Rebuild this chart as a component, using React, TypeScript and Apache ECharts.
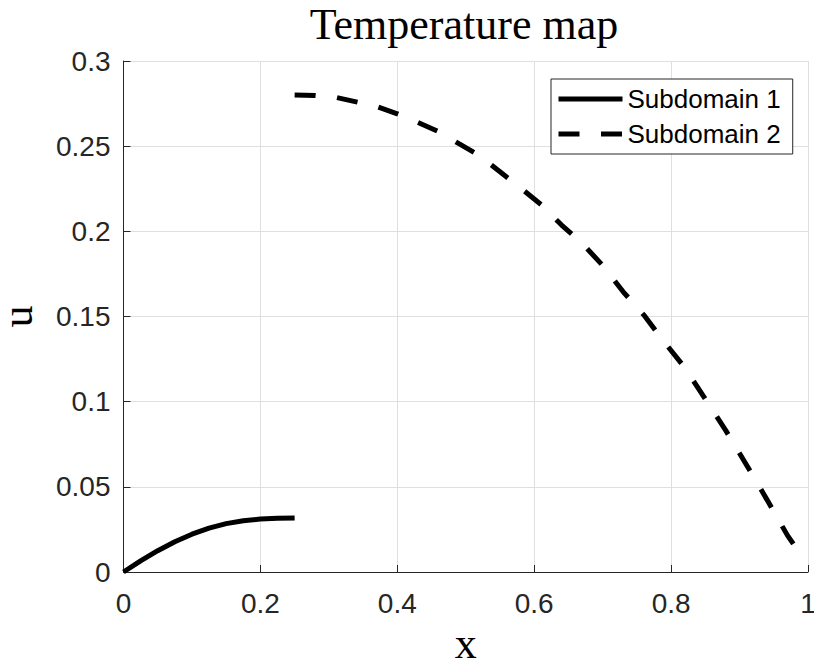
import React, { useEffect, useRef } from "react";
import * as echarts from "echarts";

const titleText = "Temperature map";
const xName = "x";
const yName = "u";
const seriesNames = ["Subdomain 1", "Subdomain 2"];

const x1 = [0, 0.025, 0.05, 0.075, 0.1, 0.125, 0.15, 0.175, 0.2, 0.225, 0.25];
const y1 = [0, 0.0065, 0.0125, 0.0178, 0.0222, 0.0258, 0.0284, 0.0301, 0.0311, 0.0315, 0.0317];

const x2 = [0.25, 0.28, 0.31, 0.34, 0.37, 0.4, 0.43, 0.46, 0.49, 0.52, 0.55, 0.58, 0.61, 0.64, 0.67, 0.7, 0.73, 0.76, 0.79, 0.82, 0.85, 0.88, 0.91, 0.94, 0.97, 0.988];
const y2 = [0.28, 0.2797, 0.2787, 0.276, 0.2733, 0.269, 0.264, 0.2586, 0.2515, 0.2445, 0.235, 0.2255, 0.2157, 0.2037, 0.193, 0.18, 0.1645, 0.151, 0.135, 0.12, 0.1015, 0.083, 0.063, 0.0425, 0.0215, 0.011];

const zip = (xs: number[], ys: number[]) => xs.map((x, i) => [x, ys[i]]);

export default function App() {
  const ref = useRef<HTMLDivElement>(null);
  useEffect(() => {
    if (!ref.current) return;
    const chart = echarts.init(ref.current, null, { renderer: "svg" });
    const axisColor = "#262626";
    const gridColor = "#dfdfdf";
    chart.setOption({
      animation: false,
      backgroundColor: "#ffffff",
      title: {
        text: titleText,
        left: 464,
        top: 2,
        padding: 0,
        textAlign: "center",
        textStyle: {
          fontFamily: "Liberation Serif",
          fontSize: 44,
          fontWeight: "normal",
          color: "#000000",
          lineHeight: 44,
        },
      },
      grid: {
        left: 123.5,
        right: 6,
        top: 61,
        bottom: 89,
        containLabel: false,
        outerBoundsMode: "none",
      },
      legend: {
        orient: "vertical",
        left: 551,
        top: 79,
        padding: [7, 12, 7, 5],
        itemWidth: 64,
        itemHeight: 26,
        itemGap: 9,
        itemTextGap: 6,
        backgroundColor: "#ffffff",
        borderColor: axisColor,
        borderWidth: 1,
        borderRadius: 0,
        itemStyle: { opacity: 0, color: "rgba(0,0,0,0)", borderWidth: 0 },
        lineStyle: { width: 5, type: "inherit", color: "#000000" },
        textStyle: {
          fontFamily: "Liberation Sans",
          fontSize: 26,
          lineHeight: 26,
          color: "#000000",
        },
        data: seriesNames,
      },
      xAxis: {
        type: "value",
        min: 0,
        max: 1,
        interval: 0.2,
        name: xName,
        nameLocation: "middle",
        nameGap: 44,
        nameTextStyle: {
          fontFamily: "Liberation Serif",
          fontSize: 44,
          lineHeight: 30,
          color: "#000000",
        },
        axisLine: { show: true, lineStyle: { color: axisColor, width: 1 } },
        axisTick: { show: true, inside: true, length: 7, lineStyle: { color: axisColor } },
        axisLabel: {
          fontFamily: "Liberation Sans",
          fontSize: 28,
          color: axisColor,
          margin: 17,
        },
        splitLine: { show: true, lineStyle: { color: gridColor, width: 1 } },
      },
      yAxis: {
        type: "value",
        min: 0,
        max: 0.3,
        interval: 0.05,
        name: yName,
        nameLocation: "middle",
        nameGap: 91,
        nameRotate: 90,
        nameTextStyle: {
          fontFamily: "Liberation Serif",
          fontSize: 44,
          lineHeight: 30,
          color: "#000000",
        },
        axisLine: { show: true, lineStyle: { color: axisColor, width: 1 } },
        axisTick: { show: true, inside: true, length: 7, lineStyle: { color: axisColor } },
        axisLabel: {
          fontFamily: "Liberation Sans",
          fontSize: 28,
          color: axisColor,
          margin: 13,
        },
        splitLine: { show: true, lineStyle: { color: gridColor, width: 1 } },
      },
      series: [
        {
          name: seriesNames[0],
          type: "line",
          data: zip(x1, y1),
          showSymbol: false,
          symbol: "none",
          smooth: false,
          lineStyle: { color: "#000000", width: 5, type: "solid" },
          itemStyle: { color: "#000000" },
        },
        {
          name: seriesNames[1],
          type: "line",
          data: zip(x2, y2),
          showSymbol: false,
          symbol: "none",
          smooth: false,
          lineStyle: { color: "#000000", width: 5, type: [21, 21.5] },
          itemStyle: { color: "#000000" },
        },
      ],
    });
    return () => chart.dispose();
  }, []);
  return (
    <div
      ref={ref}
      style={{ position: "fixed", left: 0, top: 0, width: 814, height: 661 }}
    />
  );
}
